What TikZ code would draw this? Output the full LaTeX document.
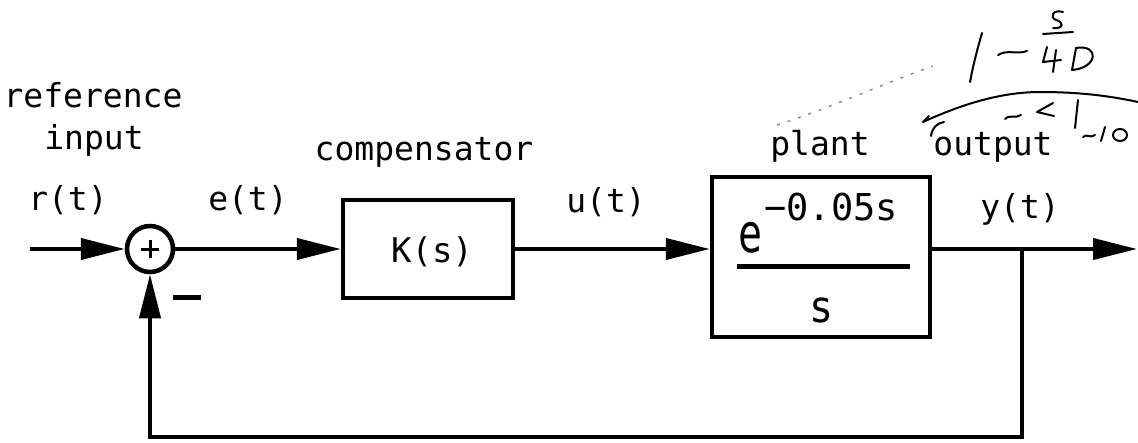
\documentclass[tikz,border=0pt]{standalone}
\usepackage{fontspec}
\usepackage{graphicx}
\newfontfamily\lblfont{DejaVu Sans Mono}
\usetikzlibrary{arrows.meta}
\begin{document}
\begin{tikzpicture}[x=1pt,y=-1pt,
  lbl/.style={font=\lblfont\fontsize{33}{33}\selectfont, inner sep=0pt, anchor=base},
  blk/.style={draw, line width=4.5pt, inner sep=0pt},
  sig/.style={line width=4pt, -{Triangle[length=44pt,width=21pt]}},
  wire/.style={line width=4pt},
  hand/.style={line width=2pt, line cap=round, line join=round},
  trail/.style={line width=1.3pt, gray, dash pattern=on 3pt off 8pt}]
\useasboundingbox (0,0) rectangle (1138,442);

% blocks
\node[blk, circle, minimum size=46pt] (sum) at (150,249) {};
\node[blk, minimum width=170pt, minimum height=98pt] (K) at (428,249) {};
\node[blk, minimum width=218pt, minimum height=160pt] (P) at (821,257) {};

% plus and minus signs
\draw[line width=3pt] ([xshift=-9pt]sum.center) -- ([xshift=9pt]sum.center);
\draw[line width=3pt] ([yshift=-9pt]sum.center) -- ([yshift=9pt]sum.center);
\draw[line width=5pt] (173,297) -- (201,297);

% block contents
\node[lbl, font=\lblfont\fontsize{34}{34}\selectfont] (Ktxt) at (432,262) {K(s)};
\node[lbl, anchor=base west, font=\lblfont\fontsize{40}{40}\selectfont] (Pe) at (738,252) {\scalebox{1}[1.35]{e}};
\node[lbl, anchor=base west, font=\lblfont\fontsize{37}{37}\selectfont] (Pexp) at (764,220) {−0.05s};
\draw[line width=5pt] (737,266) -- (910,266);
\node[lbl, font=\lblfont\fontsize{40}{40}\selectfont] (Ps) at (822,322) {\scalebox{1}[1.1]{s}};

% labels
\node[lbl] (ref) at (93,107) {reference};
\node[lbl] (inp) at (94,149) {input};
\node[lbl] (rt) at (68,210) {r(t)};
\node[lbl] (et) at (248,210) {e(t)};
\node[lbl] (comp) at (424,160) {compensator};
\node[lbl] (ut) at (606,212) {u(t)};
\node[lbl] (plant) at (820,155) {plant};
\node[lbl] (outp) at (993,155) {output};
\node[lbl] (yt) at (1020,218) {y(t)};

% connectors
\coordinate (in) at (30,249);
\coordinate (tap) at (1022,249);
\coordinate (out) at (1137,249);
\coordinate (bl) at (150,437);
\coordinate (br) at (1022,437);
\draw[sig] (in) -- (sum.west);
\draw[sig] (sum.east) -- (K.west);
\draw[sig] (K.east) -- (K.east -| P.west);
\draw[sig] (K.east -| P.east) -- (out);
\draw[wire, line join=miter] (tap) -- (br) -- (bl) -- ([yshift=2pt]bl);
\draw[sig] (bl) -- (sum.south);

% handwritten annotation
\draw[trail] (777,125) .. controls (830,108) and (880,85) .. (933,66);
\draw[hand] (982,33) .. controls (977,50) and (973,66) .. (970,82);
\draw[hand] (998,55) .. controls (1008,49) and (1016,55) .. (1027,51);
\draw[hand] (1063,12) .. controls (1053,9) and (1049,17) .. (1056,20) .. controls (1064,22) and (1064,29) .. (1053,28);
\draw[hand] (1043,34) -- (1073,32);
\draw[hand] (1047,47) -- (1043,62) -- (1061,60);
\draw[hand] (1056,50) -- (1053,72);
\draw[hand] (1076,48) -- (1072,70);
\draw[hand] (1076,48) .. controls (1100,44) and (1098,68) .. (1072,70);
\draw[hand] (929,116) -- (923,122) .. controls (960,105) and (1000,92) .. (1040,92) .. controls (1080,92) and (1110,96) .. (1138,102);
\draw[hand] (944,122) .. controls (937,123) and (932,128) .. (931,136);
\draw[hand] (1005,119) .. controls (1010,114) and (1015,119) .. (1021,115);
\draw[hand] (1053,103) -- (1037,112) -- (1054,116);
\draw[hand] (1078,100) -- (1075,128);
\draw[hand] (1083,137) .. controls (1087,133) and (1090,139) .. (1095,135);
\draw[hand] (1105,127) -- (1101,141);
\draw[hand] (1120,135) ellipse [x radius=7, y radius=6];
\end{tikzpicture}
\end{document}
